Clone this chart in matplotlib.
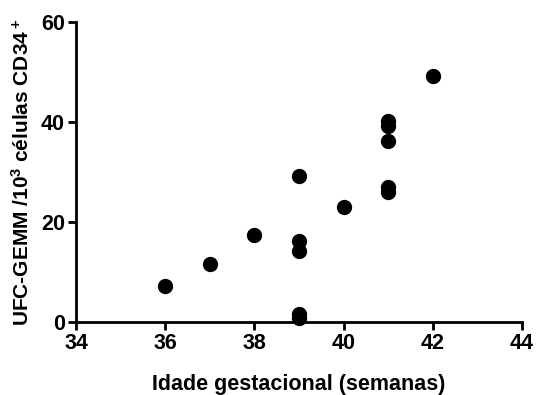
import matplotlib
matplotlib.use("Agg")
import matplotlib.pyplot as plt

plt.rcParams['font.family'] = ['Liberation Sans', 'DejaVu Sans']
plt.rcParams['font.weight'] = 'bold'
plt.rcParams['mathtext.fontset'] = 'custom'
plt.rcParams['mathtext.rm'] = 'Liberation Sans:bold'
plt.rcParams['mathtext.bf'] = 'Liberation Sans:bold'
plt.rcParams['mathtext.default'] = 'bf'

weeks = [36, 37, 38, 39, 39, 39, 39, 39, 40, 41, 41, 41, 41, 41, 42]
ufc = [7.3, 11.6, 17.5, 29.3, 16.3, 14.3, 1.6, 0.8, 23.0, 40.3, 39.2, 36.3, 27.0, 26.1, 49.2]
xticks = [34, 36, 38, 40, 42, 44]
yticks = [0, 20, 40, 60]

fig = plt.figure(figsize=(5.36, 3.95), dpi=100)
ax = fig.add_axes([76/536, 1 - 322/395, (522-76)/536, (322-22)/395])
ax.plot(weeks, ufc, 'o', color='black', markersize=10, clip_on=False, zorder=5)
ax.set_xlim(34, 44)
ax.set_ylim(0, 60)
ax.set_xticks(xticks)
ax.set_yticks(yticks)
for s in ['top', 'right']:
    ax.spines[s].set_visible(False)
for s in ['left', 'bottom']:
    ax.spines[s].set_linewidth(2)
ax.tick_params(width=2, length=6, labelsize=15.5, direction='out', pad=2)
for lab in ax.get_xticklabels() + ax.get_yticklabels():
    lab.set_fontweight('bold')
ax.set_xlabel('Idade gestacional (semanas)', fontsize=15.5, fontweight='bold', labelpad=14)
ax.set_ylabel(r'UFC-GEMM /10$^3$ células CD34$^+$', fontsize=15, fontweight='bold', labelpad=6)
fig.savefig('out.png', dpi=100)
